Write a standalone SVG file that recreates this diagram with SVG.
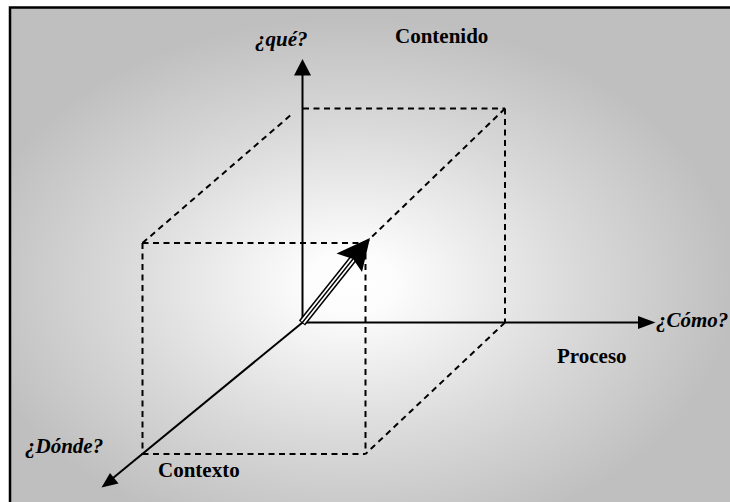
<svg xmlns="http://www.w3.org/2000/svg" width="730" height="502" viewBox="0 0 730 502">
  <defs>
    <radialGradient id="bg" cx="0.46" cy="0.54" r="0.52" fx="0.46" fy="0.54">
      <stop offset="0" stop-color="#ffffff"/>
      <stop offset="0.12" stop-color="#fcfcfc"/>
      <stop offset="0.6" stop-color="#d9d9d9"/>
      <stop offset="1" stop-color="#bfbfbf"/>
    </radialGradient>
    <style>
      .lbl { font-family: "Liberation Serif", "Times New Roman", serif; font-size: 21px; font-weight: bold; fill: #000; }
      .it { font-style: italic; }
      .dash { fill: none; stroke: #000; stroke-width: 2; stroke-dasharray: 6 4.5; }
      .axis { fill: none; stroke: #000; stroke-width: 2; }
      .head { fill: #000; stroke: none; }
    </style>
  </defs>

  <rect x="0" y="0" width="730" height="502" fill="#ffffff"/>
  <rect id="frame" x="10" y="7.5" width="740" height="510" fill="url(#bg)" stroke="#000" stroke-width="2.5"/>

  <g id="cube">
    <line class="dash" x1="303" y1="108.5" x2="505" y2="108.5"/>
    <line class="dash" x1="505" y1="108.5" x2="505" y2="322"/>
    <line class="dash" x1="142.5" y1="243" x2="365.5" y2="243"/>
    <line class="dash" x1="142.5" y1="243" x2="142.5" y2="454"/>
    <line class="dash" x1="365.5" y1="243" x2="365.5" y2="454"/>
    <line class="dash" x1="142.5" y1="454" x2="365.5" y2="454"/>
    <line class="dash" x1="142.5" y1="243" x2="292" y2="114"/>
    <line class="dash" x1="505" y1="108.5" x2="365.5" y2="243"/>
    <line class="dash" x1="505" y1="322.5" x2="365.5" y2="454"/>
  </g>

  <g id="connectors">
    <g id="axis-que">
      <line class="axis" x1="302.5" y1="323" x2="302.5" y2="72"/>
      <polygon class="head" points="302.5,59 294,75.5 311,75.5"/>
    </g>
    <g id="axis-como">
      <line class="axis" x1="301.5" y1="322.5" x2="642" y2="322.5"/>
      <polygon class="head" points="655.5,322.5 638,316 638,329"/>
    </g>
    <g id="axis-donde">
      <line class="axis" stroke-width="1.7" x1="302.5" y1="322.5" x2="110" y2="480.5"/>
      <polygon class="head" points="101.5,487.5 110,473 118.5,483.5"/>
    </g>
    <g id="vector">
      <line x1="302" y1="323" x2="353" y2="259" stroke="#000" stroke-width="8"/>
      <line x1="302.6" y1="322.2" x2="353" y2="259" stroke="#fff" stroke-width="5"/>
      <line x1="302" y1="323" x2="353" y2="259" stroke="#000" stroke-width="1.4"/>
      <polygon class="head" points="370,238 336.5,253.5 353,259 362,272"/>
    </g>
  </g>

  <g id="label-que"><text class="lbl it" x="255" y="46">¿qué?</text></g>
  <g id="label-contenido"><text class="lbl" x="395" y="42.5">Contenido</text></g>
  <g id="label-como"><text class="lbl it" x="656" y="327">¿Cómo?</text></g>
  <g id="label-proceso"><text class="lbl" x="557" y="362.5">Proceso</text></g>
  <g id="label-donde"><text class="lbl it" x="25" y="452.5">¿Dónde?</text></g>
  <g id="label-contexto"><text class="lbl" x="158" y="476.5">Contexto</text></g>
</svg>
